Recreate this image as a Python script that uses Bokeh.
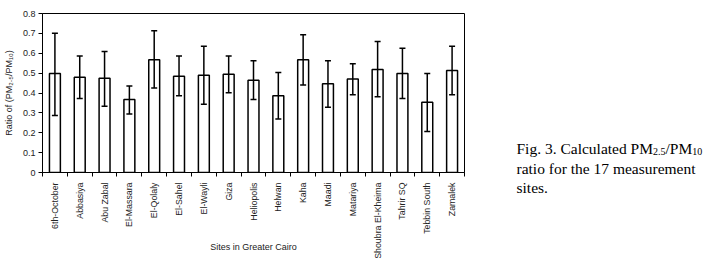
import math
from bokeh.plotting import figure
from bokeh.layouts import row
from bokeh.models import ColumnDataSource, Whisker, TeeHead, FixedTicker, Range1d
from bokeh.core.properties import value
from bokeh.embed import file_html
from bokeh.resources import INLINE

sites = ["6th-October", "Abbasiya", "Abu Zabal", "El-Massara", "El-Qolaly", "El-Sahel",
         "El-Wayli", "Giza", "Heliopolis", "Helwan", "Kaha", "Maadi", "Matariya",
         "Shoubra El-Kheima", "Tahrir SQ", "Tebbin South", "Zamalek"]
ratio = [0.498, 0.479, 0.474, 0.367, 0.567, 0.484, 0.489, 0.494, 0.464, 0.386, 0.567,
         0.446, 0.471, 0.518, 0.498, 0.354, 0.513]
upper = [0.701, 0.586, 0.609, 0.435, 0.713, 0.586, 0.635, 0.586, 0.562, 0.503, 0.693,
         0.562, 0.547, 0.659, 0.625, 0.498, 0.635]
lower = [0.287, 0.372, 0.333, 0.294, 0.425, 0.386, 0.343, 0.401, 0.367, 0.269, 0.440,
         0.328, 0.391, 0.381, 0.372, 0.206, 0.391]
y_ticks = [0, 0.1, 0.2, 0.3, 0.4, 0.5, 0.6, 0.7, 0.8]
y_tick_labels = ["0", "0.1", "0.2", "0.3", "0.4", "0.5", "0.6", "0.7", "0.8"]
x_title = "Sites in Greater Cairo"
y_title = "Ratio of (PM\u2082.\u2085/PM\u2081\u2080)"
caption_line1 = ["Fig. 3. Calculated PM", "2.5", "/PM", "10"]
caption_line2 = "ratio for the 17 measurement"
caption_line3 = "sites."

xs = list(range(len(sites)))
src = ColumnDataSource(dict(x=xs, ratio=ratio, upper=upper, lower=lower))

SANS = "Liberation Sans"
SERIF = "Liberation Serif"
TXT = "#222222"

CHART_W = 500
TOTAL_W = 705
H = 258

p = figure(width=CHART_W, height=H, x_range=Range1d(-0.5, len(sites) - 0.5),
           y_range=Range1d(0, 0.8), output_backend="svg", toolbar_location=None,
           min_border_left=37, min_border_right=36, min_border_top=13,
           min_border_bottom=86)
p.frame_align = False
p.background_fill_color = "white"
p.border_fill_color = "white"
p.outline_line_color = "black"
p.outline_line_width = 1
p.xgrid.visible = False
p.ygrid.visible = False

p.vbar(x="x", top="ratio", width=0.44, source=src, fill_color="white",
       line_color="black", line_width=1.5)
wh = Whisker(base="x", upper="upper", lower="lower", source=src, line_width=1.5,
             line_color="black",
             upper_head=TeeHead(size=6, line_width=1.5, line_color="black"),
             lower_head=TeeHead(size=6, line_width=1.5, line_color="black"))
wh.level = "overlay"
p.add_layout(wh)

# x axis
xa = p.xaxis[0]
xa.ticker = FixedTicker(ticks=xs, minor_ticks=[i - 0.5 for i in range(len(sites) + 1)])
xa.major_label_overrides = {i: s for i, s in enumerate(sites)}
xa.major_label_orientation = math.pi / 2
xa.major_tick_out = 0
xa.major_tick_in = 0
xa.minor_tick_out = 4
xa.minor_tick_in = 0
xa.minor_tick_line_color = "black"
xa.major_label_standoff = 6
xa.major_label_text_font = SANS
xa.major_label_text_font_size = "8.8px"
xa.major_label_text_color = TXT
xa.axis_line_color = "black"
xa.axis_label = x_title
xa.axis_label_text_font = SANS
xa.axis_label_text_font_size = "9px"
xa.axis_label_text_font_style = "normal"
xa.axis_label_text_color = TXT
xa.axis_label_standoff = -20

# y axis
ya = p.yaxis[0]
ya.ticker = FixedTicker(ticks=y_ticks)
ya.major_label_overrides = {t: l for t, l in zip(y_ticks, y_tick_labels)}
ya.major_tick_out = 4
ya.major_tick_in = 0
ya.minor_tick_line_color = None
ya.major_label_standoff = 3
ya.major_label_text_font = SANS
ya.major_label_text_font_size = "9px"
ya.major_label_text_color = TXT
ya.axis_line_color = "black"
ya.axis_label = y_title
ya.axis_label_text_font = SANS
ya.axis_label_text_font_size = "9px"
ya.axis_label_text_font_style = "normal"
ya.axis_label_text_color = TXT
ya.axis_label_standoff = 6

# caption panel: data coordinates equal page pixels
c = figure(width=TOTAL_W - CHART_W, height=H, x_range=Range1d(CHART_W, TOTAL_W),
           y_range=Range1d(H, 0), output_backend="svg", toolbar_location=None,
           x_axis_location=None, y_axis_location=None,
           min_border_left=0, min_border_right=0, min_border_top=0, min_border_bottom=0)
c.frame_align = False
c.outline_line_color = None
c.background_fill_color = "white"
c.border_fill_color = "white"
c.xgrid.visible = False
c.ygrid.visible = False

BIG = 15.5
SUB = 10.0
em = {"Fig. 3. Calculated PM": 8.806, "2.5": 1.25, "/PM": 1.723, "10": 1.0}
cx = 516.0
for i, piece in enumerate(caption_line1):
    sub = i % 2 == 1
    fs = SUB if sub else BIG
    c.text(x=[cx], y=[148.3 + (3 if sub else 0)], text=[piece],
           text_font=value(SERIF), text_font_size=f"{fs}px",
           text_align="left", text_baseline="alphabetic", text_color="black")
    cx += em[piece] * fs
c.text(x=[516.0], y=[167.5], text=[caption_line2], text_font=value(SERIF),
       text_font_size=f"{BIG}px", text_align="left", text_baseline="alphabetic",
       text_color="black")
c.text(x=[516.0], y=[186.7], text=[caption_line3], text_font=value(SERIF),
       text_font_size=f"{BIG}px", text_align="left", text_baseline="alphabetic",
       text_color="black")

layout = row(p, c, spacing=0)
open("out.html", "w").write(file_html(layout, INLINE))
